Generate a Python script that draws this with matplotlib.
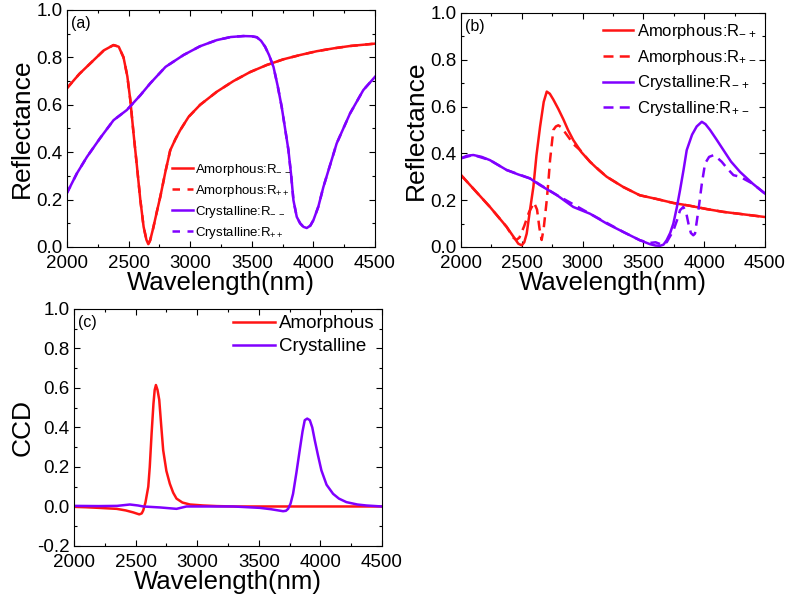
import matplotlib
matplotlib.use("Agg")
import matplotlib.pyplot as plt
from matplotlib.ticker import MultipleLocator, FormatStrFormatter

plt.rcParams['font.family'] = ['Liberation Sans', 'DejaVu Sans']
plt.rcParams['mathtext.fontset'] = 'custom'
plt.rcParams['mathtext.rm'] = 'Liberation Sans'
plt.rcParams['mathtext.it'] = 'Liberation Sans'

RED = '#ff1414'
PUR = '#8000ff'

# ---- panel (a) ----
a_am_x = [2000, 2100, 2200, 2300, 2378, 2420, 2459, 2490, 2514, 2540, 2568, 2595, 2622, 2645, 2660, 2675, 2700,
          2730, 2757, 2800, 2838, 2880, 2919, 2987, 3081, 3216, 3351, 3486, 3622, 3757, 3892, 4027, 4162, 4297, 4500]
a_am_y = [0.67, 0.73, 0.78, 0.83, 0.852, 0.845, 0.80, 0.72, 0.62, 0.48, 0.34, 0.20, 0.085, 0.03, 0.012, 0.028, 0.08,
          0.15, 0.211, 0.32, 0.408, 0.455, 0.493, 0.549, 0.60, 0.655, 0.70, 0.738, 0.768, 0.792, 0.81, 0.826, 0.838,
          0.848, 0.858]
a_cr_x = [2000, 2080, 2162, 2270, 2378, 2486, 2595, 2675, 2800, 2946, 3080, 3216, 3330, 3432, 3500, 3541, 3575,
          3608, 3640, 3676, 3710, 3743, 3770, 3797, 3820, 3838, 3865, 3892, 3919, 3946, 3975, 4000, 4040, 4081, 4135,
          4189, 4297, 4405, 4500]
a_cr_y = [0.228, 0.31, 0.38, 0.46, 0.535, 0.578, 0.64, 0.69, 0.76, 0.81, 0.847, 0.873, 0.886, 0.89, 0.889, 0.885,
          0.87, 0.845, 0.81, 0.76, 0.68, 0.59, 0.50, 0.41, 0.30, 0.197, 0.127, 0.10, 0.085, 0.08, 0.09, 0.113, 0.17,
          0.253, 0.345, 0.437, 0.563, 0.662, 0.718]

# ---- panel (b) ----
b_am_s_x = [2000, 2100, 2238, 2375, 2430, 2471, 2499, 2520, 2540, 2565, 2595, 2620, 2650, 2680, 2705, 2730, 2759,
            2800, 2842, 2880, 2923, 2990, 3061, 3130, 3198, 3335, 3470, 3609, 3746, 3883, 4020, 4157, 4330, 4500]
b_am_s_y = [0.307, 0.25, 0.171, 0.086, 0.045, 0.014, 0.007, 0.02, 0.057, 0.15, 0.257, 0.39, 0.514, 0.62, 0.664, 0.655,
            0.63, 0.59, 0.545, 0.50, 0.457, 0.405, 0.364, 0.33, 0.30, 0.256, 0.221, 0.205, 0.188, 0.176, 0.162, 0.15,
            0.139, 0.128]
b_am_d_x = [2000, 2100, 2238, 2375, 2430, 2455, 2480, 2520, 2560, 2581, 2600, 2625, 2645, 2663, 2680, 2705, 2720,
            2732, 2759, 2780, 2800, 2830, 2855, 2890, 2923, 2979, 3061, 3198, 3335, 3470, 3609, 3746, 3883, 4020, 4157,
            4330, 4500]
b_am_d_y = [0.307, 0.25, 0.171, 0.086, 0.04, 0.03, 0.04, 0.09, 0.15, 0.17, 0.19, 0.16, 0.08, 0.03, 0.08, 0.20, 0.29,
            0.371, 0.50, 0.515, 0.52, 0.51, 0.49, 0.465, 0.44, 0.414, 0.364, 0.30, 0.256, 0.221, 0.205, 0.188, 0.176,
            0.162, 0.15, 0.139, 0.128]
b_cr_s_x = [2000, 2050, 2101, 2170, 2238, 2375, 2470, 2567, 2650, 2787, 2923, 3061, 3198, 3335, 3470, 3554, 3600,
            3636, 3665, 3691, 3720, 3746, 3775, 3801, 3830, 3856, 3900, 3938, 3980, 4010, 4048, 4100, 4158, 4220, 4294,
            4400, 4500]
b_cr_s_y = [0.379, 0.39, 0.393, 0.385, 0.371, 0.329, 0.31, 0.293, 0.264, 0.222, 0.171, 0.142, 0.10, 0.064, 0.029,
            0.012, 0.006, 0.005, 0.01, 0.029, 0.06, 0.10, 0.17, 0.243, 0.33, 0.414, 0.48, 0.515, 0.535, 0.525, 0.50,
            0.46, 0.414, 0.365, 0.321, 0.27, 0.228]
b_cr_d_x = [2000, 2101, 2238, 2375, 2567, 2787, 3061, 3335, 3470, 3530, 3565, 3600, 3640, 3691, 3746, 3780, 3801,
            3828, 3850, 3870, 3890, 3910, 3924, 3952, 3980, 4007, 4040, 4075, 4110, 4144, 4190, 4240, 4294, 4400, 4500]
b_cr_d_y = [0.379, 0.393, 0.371, 0.329, 0.293, 0.222, 0.142, 0.064, 0.029, 0.02, 0.018, 0.02, 0.012, 0.02, 0.07,
            0.12, 0.157, 0.171, 0.15, 0.10, 0.06, 0.05, 0.057, 0.157, 0.27, 0.357, 0.385, 0.392, 0.38, 0.364, 0.335,
            0.307, 0.30, 0.27, 0.228]

# ---- panel (c) ----
c_am_x = [2000, 2100, 2200, 2346, 2420, 2481, 2510, 2530, 2550, 2562, 2580, 2603, 2615, 2630, 2645, 2655, 2665,
          2678, 2692, 2708, 2724, 2750, 2778, 2805, 2832, 2880, 2941, 3050, 3157, 3300, 3500, 3800, 4100, 4500]
c_am_y = [-0.002, -0.004, -0.007, -0.012, -0.02, -0.03, -0.036, -0.04, -0.035, -0.02, 0.02, 0.10, 0.20, 0.37, 0.52,
          0.59, 0.615, 0.59, 0.54, 0.41, 0.285, 0.18, 0.115, 0.07, 0.04, 0.02, 0.01, 0.005, 0.002, 0.0, 0.0, 0.0, 0.0,
          0.0]
c_cr_x = [2000, 2200, 2350, 2454, 2520, 2562, 2700, 2832, 2913, 3100, 3292, 3508, 3600, 3697, 3720, 3738, 3758, 3778,
          3805, 3832, 3855, 3873, 3893, 3914, 3934, 3954, 3980, 4008, 4050, 4103, 4150, 4211, 4300, 4373, 4500]
c_cr_y = [0.003, 0.002, 0.003, 0.01, 0.005, 0.0, -0.005, -0.012, 0.0, 0.0, 0.0, -0.007, -0.014, -0.024, -0.022,
          -0.012, 0.015, 0.064, 0.17, 0.285, 0.38, 0.437, 0.445, 0.437, 0.40, 0.336, 0.26, 0.183, 0.11, 0.064, 0.04,
          0.022, 0.01, 0.005, 0.0]

xticks = [2000, 2500, 3000, 3500, 4000, 4500]

fig = plt.figure(figsize=(7.87, 5.98), dpi=100)
axa = fig.add_axes([0.0851, 0.587, 0.3914, 0.3963])
axb = fig.add_axes([0.5858, 0.587, 0.3863, 0.3913])
axc = fig.add_axes([0.0940, 0.087, 0.3914, 0.3963])

LW = 1.8

def style(ax, ylim, ylabel, tag):
    ax.set_xlim(2000, 4500)
    ax.set_ylim(*ylim)
    ax.set_xticks(xticks)
    ax.xaxis.set_minor_locator(MultipleLocator(250))
    ax.yaxis.set_major_locator(MultipleLocator(0.2))
    ax.yaxis.set_minor_locator(MultipleLocator(0.1))
    ax.yaxis.set_major_formatter(FormatStrFormatter('%.1f'))
    ax.tick_params(which='both', direction='in', top=True, right=True, labelsize=13.5, width=0.8)
    ax.tick_params(which='major', length=4)
    ax.tick_params(which='minor', length=2.5)
    ax.tick_params(axis='x', pad=6)
    ax.tick_params(axis='y', pad=3)
    ax.set_xlabel('Wavelength(nm)', fontsize=18.5, labelpad=-1)
    ax.set_ylabel(ylabel, fontsize=19, labelpad=2)
    ax.text(0.012, 0.975, tag, transform=ax.transAxes, fontsize=11.5, va='top', ha='left')
    for s in ax.spines.values():
        s.set_linewidth(0.8)

# (a)
axa.plot(a_am_x, a_am_y, color=RED, lw=LW, ls=(0, (3, 3)), label='Amorphous:R$_{++}$')
axa.plot(a_cr_x, a_cr_y, color=PUR, lw=LW, ls=(0, (3, 3)), label='Crystalline:R$_{++}$')
axa.plot(a_am_x, a_am_y, color=RED, lw=LW, label='Amorphous:R$_{-\\,-}$')
axa.plot(a_cr_x, a_cr_y, color=PUR, lw=LW, label='Crystalline:R$_{-\\,-}$')
h = axa.get_lines()
style(axa, (0, 1.0), 'Reflectance', '(a)')
axa.legend([h[2], h[0], h[3], h[1]], [l.get_label() for l in (h[2], h[0], h[3], h[1])],
           loc='lower left', bbox_to_anchor=(0.31, -0.012), frameon=False, fontsize=9.5,
           handlelength=1.6, handletextpad=0.2, labelspacing=0.38, borderaxespad=0.3)

# (b)
axb.plot(b_am_s_x, b_am_s_y, color=RED, lw=LW, label='Amorphous:R$_{-\\,+}$')
axb.plot(b_am_d_x, b_am_d_y, color=RED, lw=LW, ls=(0, (4, 2.5)), label='Amorphous:R$_{+\\,-}$')
axb.plot(b_cr_s_x, b_cr_s_y, color=PUR, lw=LW, label='Crystalline:R$_{-\\,+}$')
axb.plot(b_cr_d_x, b_cr_d_y, color=PUR, lw=LW, ls=(0, (4, 2.5)), label='Crystalline:R$_{+\\,-}$')
style(axb, (0, 1.0), 'Reflectance', '(b)')
axb.legend(loc='upper right', bbox_to_anchor=(1.0, 0.997), frameon=False, fontsize=12,
           handlelength=1.8, handletextpad=0.2, labelspacing=0.4, borderaxespad=0.1)

# (c)
axc.plot(c_am_x, c_am_y, color=RED, lw=LW, label='Amorphous')
axc.plot(c_cr_x, c_cr_y, color=PUR, lw=LW, label='Crystalline')
style(axc, (-0.2, 1.0), 'CCD', '(c)')
axc.legend(loc='upper right', bbox_to_anchor=(1.0, 1.005), frameon=False, fontsize=13.5,
           handlelength=2.25, handletextpad=0.2, labelspacing=0.3, borderaxespad=0.0)

fig.savefig('out.png', dpi=100)
